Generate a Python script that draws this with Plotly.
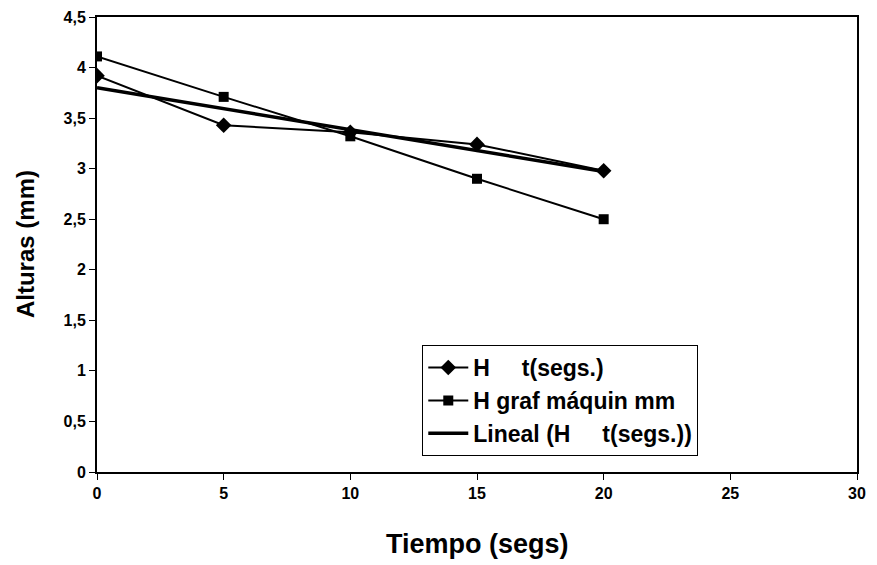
import numpy as np
import plotly.graph_objects as go

# data
tiempo = [0, 5, 10, 15, 20]
h_t = [3.92, 3.43, 3.36, 3.24, 2.98]
h_graf = [4.11, 3.71, 3.32, 2.90, 2.50]

x_ticks = [0, 5, 10, 15, 20, 25, 30]
y_ticks = [0, 0.5, 1, 1.5, 2, 2.5, 3, 3.5, 4, 4.5]

# Excel-style linear trendline of the first series
slope, intercept = np.polyfit(tiempo, h_t, 1)
trend_x = [0, 20]
trend_y = [intercept + slope * x for x in trend_x]

font_family = "Liberation Sans, Arial, sans-serif"
tick_font = dict(size=16, family=font_family, weight="bold")

fig = go.Figure()

fig.add_trace(go.Scatter(
    x=tiempo,
    y=h_t,
    mode="lines+markers",
    name="<b>H     t(segs.)</b>",
    line=dict(color="black", width=2),
    marker=dict(symbol="diamond", size=12, color="black")
))

fig.add_trace(go.Scatter(
    x=tiempo,
    y=h_graf,
    mode="lines+markers",
    name="<b>H graf máquin mm</b>",
    line=dict(color="black", width=2),
    marker=dict(symbol="square", size=10, color="black")
))

fig.add_trace(go.Scatter(
    x=trend_x,
    y=trend_y,
    mode="lines",
    name="<b>Lineal (H     t(segs.))</b>",
    line=dict(color="black", width=3.5)
))

# the page body adds 8px, so margins are shifted to compensate
fig.update_layout(
    width=877,
    height=565,
    paper_bgcolor="white",
    plot_bgcolor="white",
    separators=",.",
    margin=dict(l=89, r=28, t=9, b=101),
    font=dict(family=font_family, color="black"),
    legend=dict(
        x=0.428,
        y=0.279,
        xanchor="left",
        yanchor="top",
        bordercolor="black",
        borderwidth=1,
        bgcolor="white",
        font=dict(size=23, family=font_family),
        tracegroupgap=0,
        itemwidth=40
    ),
    showlegend=True,
    xaxis=dict(
        range=[0, 30], tickvals=x_ticks,
        showline=True, linecolor="black", linewidth=2, mirror=True,
        showgrid=False, zeroline=False,
        ticks="outside", ticklen=6, tickcolor="black",
        automargin=False, tickfont=tick_font
    ),
    yaxis=dict(
        range=[0, 4.5], tickvals=y_ticks,
        showline=True, linecolor="black", linewidth=2, mirror=True,
        showgrid=False, zeroline=False,
        ticks="outside", ticklen=6, tickcolor="black",
        automargin=False, tickfont=tick_font
    ),
    # second pair of axes only to get ticks that cross the frame
    xaxis2=dict(
        overlaying="x", anchor="y", range=[0, 30], tickvals=x_ticks,
        ticks="inside", ticklen=6, tickcolor="black", tickwidth=1,
        showticklabels=False, showgrid=False, zeroline=False,
        showline=False, automargin=False
    ),
    yaxis2=dict(
        overlaying="y", anchor="x", range=[0, 4.5], tickvals=y_ticks,
        ticks="inside", ticklen=6, tickcolor="black", tickwidth=1,
        showticklabels=False, showgrid=False, zeroline=False,
        showline=False, automargin=False
    )
)

# axis titles placed as annotations
fig.add_annotation(
    text="<b>Tiempo (segs)</b>",
    x=0.5, y=-0.158, xref="paper", yref="paper",
    xanchor="center", yanchor="middle", showarrow=False,
    font=dict(size=27, family=font_family)
)
fig.add_annotation(
    text="<b>Alturas (mm)</b>",
    x=-0.094, y=0.5, xref="paper", yref="paper",
    xanchor="center", yanchor="middle", showarrow=False, textangle=-90,
    font=dict(size=24, family=font_family)
)

fig.write_html("out.html")
